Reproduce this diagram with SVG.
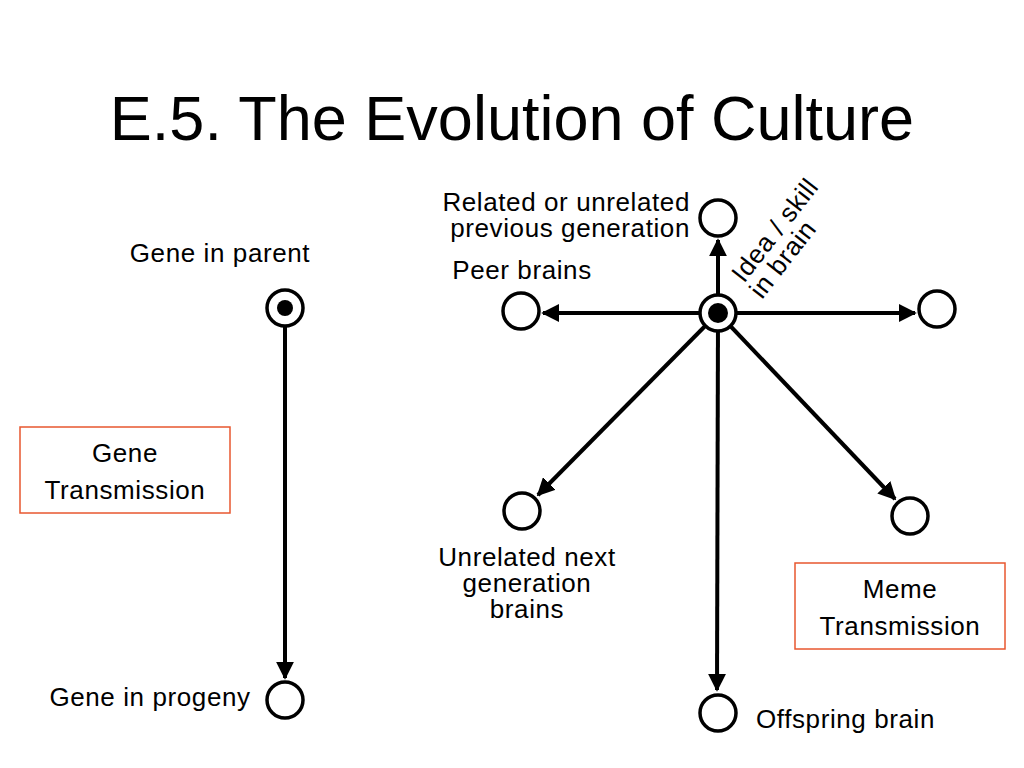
<svg xmlns="http://www.w3.org/2000/svg" width="1024" height="768" viewBox="0 0 1024 768">
<defs>
<marker id="ah" viewBox="0 0 10 10" refX="9" refY="5" markerWidth="4.5" markerHeight="4.5" orient="auto" markerUnits="strokeWidth"><path d="M0,0 L10,5 L0,10 z" fill="#000"/></marker>
</defs>
<style>
text{font-family:"Liberation Sans",Arial,sans-serif;fill:#000}
.c{fill:#fff;stroke:#000;stroke-width:3.5}
.l{stroke:#000;stroke-width:4;fill:none;marker-end:url(#ah)}
.b{fill:#fff;stroke:#e8572f;stroke-width:1.5}
.t{font-size:26px;letter-spacing:0.6px}
</style>
<rect width="1024" height="768" fill="#fff"/>
<text x="512" y="140" font-size="63" text-anchor="middle">E.5. The Evolution of Culture</text>
<g id="connectors">
<line class="l" x1="285" y1="308" x2="285" y2="678"/>
<line class="l" x1="718" y1="313" x2="718" y2="240"/>
<line class="l" x1="718" y1="313" x2="543" y2="313"/>
<line class="l" x1="718" y1="313" x2="915" y2="313"/>
<line class="l" x1="718" y1="313" x2="538" y2="495"/>
<line class="l" x1="718" y1="313" x2="895" y2="499"/>
<line class="l" x1="718" y1="313" x2="717" y2="690"/>
</g>
<g id="gene-parent"><circle class="c" cx="285" cy="308" r="18"/><circle cx="285" cy="308" r="8" fill="#000"/><text class="t" x="220" y="262" text-anchor="middle">Gene in parent</text></g>
<g id="gene-progeny"><circle class="c" cx="285" cy="700" r="18"/><text class="t" x="150" y="706" text-anchor="middle">Gene in progeny</text></g>
<g id="gene-box"><rect class="b" x="20" y="427" width="210" height="86"/><text class="t" x="125" y="462" text-anchor="middle">Gene</text><text class="t" x="125" y="499" text-anchor="middle">Transmission</text></g>
<g id="hub"><circle class="c" cx="718" cy="313" r="18"/><circle cx="718" cy="313" r="10" fill="#000"/>
<text class="t" transform="translate(744,284) rotate(-52)">Idea / skill</text>
<text class="t" transform="translate(762,300) rotate(-52)">in brain</text></g>
<g id="top"><circle class="c" cx="718" cy="218" r="18"/><text class="t" x="690" y="211" text-anchor="end">Related or unrelated</text><text class="t" x="690" y="237" text-anchor="end">previous generation</text></g>
<g id="peer"><circle class="c" cx="521" cy="311" r="18"/><text class="t" x="522" y="279" text-anchor="middle">Peer brains</text></g>
<g id="right"><circle class="c" cx="937" cy="309" r="18"/></g>
<g id="unrelated"><circle class="c" cx="522" cy="511" r="18"/><text class="t" x="527" y="566" text-anchor="middle">Unrelated next</text><text class="t" x="527" y="592" text-anchor="middle">generation</text><text class="t" x="527" y="618" text-anchor="middle">brains</text></g>
<g id="lower-right"><circle class="c" cx="910" cy="516" r="18"/></g>
<g id="offspring"><circle class="c" cx="718" cy="713" r="18"/><text class="t" x="756" y="728">Offspring brain</text></g>
<g id="meme-box"><rect class="b" x="795" y="563" width="210" height="86"/><text class="t" x="900" y="598" text-anchor="middle">Meme</text><text class="t" x="900" y="635" text-anchor="middle">Transmission</text></g>
</svg>
